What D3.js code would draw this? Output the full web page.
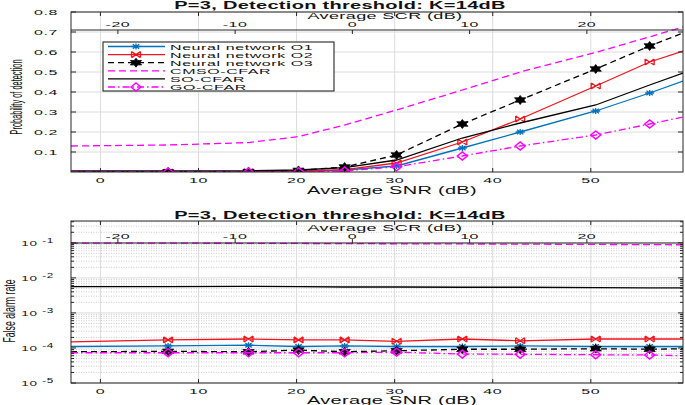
<!DOCTYPE html>
<html><head><meta charset="utf-8">
<script src="https://cdn.jsdelivr.net/npm/d3@7"></script>
<style>body{margin:0;background:#fff}text{font-family:"Liberation Sans",Arial,sans-serif;fill:#111}</style>
</head><body><svg id="c" width="685" height="405"></svg>
<script>
// ---------- data ----------
const snr = [-3, 6.9, 15.1, 20.2, 24.9, 30.2, 36.9, 42.8, 50.5, 56.0, 59.4];
const markerIdx = [1, 2, 3, 4, 5, 6, 7, 8, 9];
const seriesNames = ["Neural network O1", "Neural network O2", "Neural network O3", "CMSO-CFAR", "SO-CFAR", "GO-CFAR"];

const pdO1   = [0.0, 0.0, 0.001, 0.003, 0.01, 0.03, 0.12, 0.2, 0.305, 0.395, 0.455];
const pdO2   = [0.0, 0.0, 0.001, 0.004, 0.012, 0.045, 0.15, 0.265, 0.43, 0.55, 0.605];
const pdO3   = [0.0, 0.0, 0.002, 0.008, 0.025, 0.085, 0.24, 0.36, 0.515, 0.63, 0.695];
const pdCMSO = [0.13, 0.135, 0.147, 0.177, 0.235, 0.31, 0.41, 0.50, 0.598, 0.676, 0.725];
const pdSO   = [0.005, 0.005, 0.006, 0.01, 0.022, 0.06, 0.17, 0.245, 0.335, 0.435, 0.495];
const pdGO   = [0.0, 0.0, 0.0, 0.001, 0.005, 0.026, 0.08, 0.13, 0.185, 0.24, 0.275];

const pfaO1   = [1.1e-4, 1.14e-4, 1.2e-4, 1.1e-4, 1.14e-4, 1.1e-4, 1.1e-4, 1.14e-4, 1.1e-4, 1.1e-4, 1.1e-4];
const pfaO2   = [1.5e-4, 1.7e-4, 1.8e-4, 1.7e-4, 1.7e-4, 1.55e-4, 1.8e-4, 1.6e-4, 1.8e-4, 1.8e-4, 1.8e-4];
const pfaO3   = [7.8e-5, 8.0e-5, 7.8e-5, 8.7e-5, 7.8e-5, 8.3e-5, 9.2e-5, 9.2e-5, 9.5e-5, 9.2e-5, 9.5e-5];
const pfaCMSO = [0.098, 0.098, 0.097, 0.096, 0.095, 0.094, 0.093, 0.092, 0.090, 0.089, 0.088];
const pfaSO   = [0.0056, 0.0056, 0.0057, 0.0056, 0.0055, 0.0055, 0.0054, 0.0054, 0.0053, 0.0052, 0.0052];
const pfaGO   = [7.3e-5, 7.3e-5, 7.3e-5, 7.3e-5, 7.3e-5, 7.6e-5, 6.7e-5, 6.6e-5, 6.4e-5, 6.3e-5, 6.0e-5];

const snrTicks = [0, 10, 20, 30, 40, 50];
const scrTicks = [-20, -10, 0, 10, 20];
const pdTicks  = [0.1, 0.2, 0.3, 0.4, 0.5, 0.6, 0.7, 0.8];
const pfaExps  = [-5, -4, -3, -2, -1];
const titleText = "P=3, Detection threshold: K=14dB";
const xLabel = "Average SNR (dB)";
const x2Label = "Average SCR (dB)";
const yLabelTop = "Probability of detection";
const yLabelBot = "False alarm rate";

// ---------- styles ----------
const styles = [
  {color: "#0072BD", dash: null, marker: "ast"},
  {color: "#f0141e", dash: null, marker: "x"},
  {color: "#000000", dash: "6,4", marker: "hex"},
  {color: "#ff00ff", dash: "7,4", marker: null},
  {color: "#000000", dash: null, marker: null},
  {color: "#ff00ff", dash: "7,3,1.5,3", marker: "dia"}
];

const svg = d3.select("#c");
const X0 = 71, X1 = 683;
const x  = d3.scaleLinear().domain([-3, 59.4]).range([X0, X1]);
const xs = d3.scaleLinear().domain([-24, 28.2]).range([X0, X1]);
const AX = "#262626", GRID = "#dcdcdc";

function T(g, px, py, s, o = {}) {
  const size = o.size || 8, sx = o.sx || 2, anchor = o.anchor || "middle";
  return g.append("text")
    .attr("transform", `translate(${px},${py}) scale(${sx},1)`)
    .attr("text-anchor", anchor)
    .style("font-size", size + "px")
    .style("font-weight", o.weight || "normal")
    .style("letter-spacing", (o.ls == null ? 0.3 : o.ls) + "px")
    .text(s);
}

function hexPath(w, h) {
  const pts = [];
  for (let i = 0; i < 12; i++) {
    const a = -Math.PI / 2 + i * Math.PI / 6;
    const r = i % 2 === 0 ? 1 : 0.55;
    pts.push([Math.cos(a) * r * w, Math.sin(a) * r * h]);
  }
  return "M" + pts.map(p => p.join(",")).join("L") + "Z";
}
function drawMarker(g, type, cx, cy, color) {
  const m = g.append("path").attr("transform", `translate(${cx},${cy})`);
  if (type === "ast") m.attr("d", "M-4.5,0H4.5M0,-3V3M-3.2,-2.2L3.2,2.2M-3.2,2.2L3.2,-2.2").attr("stroke", color).attr("stroke-width", 1.3).attr("fill", "none");
  if (type === "x") m.attr("d", "M-4.5,-3L4.5,3M-4.5,3L4.5,-3M-4.5,-3V3M4.5,-3V3").attr("stroke", color).attr("stroke-width", 1.3).attr("fill", "none");
  if (type === "hex") m.attr("d", hexPath(6.5, 4.5)).attr("fill", color).attr("stroke", color).attr("stroke-width", 0.8);
  if (type === "dia") m.attr("d", "M-5,0L0,-4L5,0L0,4Z").attr("stroke", color).attr("stroke-width", 1.5).attr("fill", "none");
}

function drawPanel(cfg) {
  const g = svg.append("g");
  const y = cfg.y;
  const [yb, yt] = y.range();
  const clipId = "clip" + cfg.id;
  svg.append("clipPath").attr("id", clipId).append("rect").attr("x", X0).attr("y", yt).attr("width", X1 - X0).attr("height", yb - yt);

  // grid
  if (cfg.log) {
    const minor = [];
    pfaExps.forEach(e => { for (let k = 2; k <= 9; k++) { const v = k * Math.pow(10, e); if (v < y.domain()[1]) minor.push(v); } });
    g.selectAll(".mg").data(minor).enter().append("line")
      .attr("x1", X0).attr("x2", X1).attr("y1", d => y(d)).attr("y2", d => y(d))
      .attr("stroke", "#c0c0c0").attr("stroke-width", 0.8).attr("stroke-dasharray", "1,1.5");
  }
  g.selectAll(".hg").data(cfg.yTicks).enter().append("line")
    .attr("x1", X0).attr("x2", X1).attr("y1", d => y(d)).attr("y2", d => y(d))
    .attr("stroke", GRID).attr("stroke-width", 1);
  g.selectAll(".vg").data(snrTicks).enter().append("line")
    .attr("x1", d => x(d)).attr("x2", d => x(d)).attr("y1", yt).attr("y2", yb)
    .attr("stroke", GRID).attr("stroke-width", 1);

  // series
  const pl = g.append("g").attr("clip-path", `url(#${clipId})`);
  cfg.series.forEach((vals, i) => {
    const st = styles[i];
    const line = d3.line().x((d, j) => x(snr[j])).y(d => y(d));
    pl.append("path").datum(vals).attr("d", line).attr("fill", "none")
      .attr("stroke", st.color).attr("stroke-width", 1.3)
      .attr("stroke-dasharray", st.dash);
    if (st.marker) markerIdx.forEach(j => drawMarker(pl, st.marker, x(snr[j]), y(vals[j]), st.color));
  });

  // box & axes
  const ax = g.append("g").attr("stroke", AX).attr("stroke-width", 1).attr("fill", "none");
  ax.append("rect").attr("x", X0).attr("y", yt).attr("width", X1 - X0).attr("height", yb - yt);
  ax.append("line").attr("x1", X0).attr("x2", X1).attr("y1", cfg.secY).attr("y2", cfg.secY);
  snrTicks.forEach(t => {
    ax.append("line").attr("x1", x(t)).attr("x2", x(t)).attr("y1", yb).attr("y2", yb - 4);
    ax.append("line").attr("x1", x(t)).attr("x2", x(t)).attr("y1", yt).attr("y2", yt + 4);
    T(g, x(t), yb + 10.5, String(t));
  });
  scrTicks.forEach(t => {
    ax.append("line").attr("x1", xs(t)).attr("x2", xs(t)).attr("y1", cfg.secY).attr("y2", cfg.secY + cfg.secTickDir * 4);
    T(g, xs(t), cfg.scrLabY, String(t));
  });
  cfg.yTicks.forEach(t => {
    ax.append("line").attr("x1", X0).attr("x2", X0 + 5).attr("y1", y(t)).attr("y2", y(t));
    ax.append("line").attr("x1", X1).attr("x2", X1 - 5).attr("y1", y(t)).attr("y2", y(t));
  });
  if (cfg.log) {
    pfaExps.forEach(e => { for (let k = 2; k <= 9; k++) { const v = k * Math.pow(10, e); if (v < y.domain()[1]) {
      ax.append("line").attr("x1", X0).attr("x2", X0 + 3).attr("y1", y(v)).attr("y2", y(v));
      ax.append("line").attr("x1", X1).attr("x2", X1 - 3).attr("y1", y(v)).attr("y2", y(v));
    } } });
    pfaExps.forEach(e => {
      const t = g.append("text").attr("transform", `translate(54,${y(Math.pow(10, e)) + 3}) scale(1.8,1)`)
        .attr("text-anchor", "end").style("font-size", "7.5px").style("letter-spacing", "0.4px");
      t.append("tspan").text("10");
      t.append("tspan").attr("dx", 2.5).attr("dy", -3).style("font-size", "6.5px").text("-" + Math.abs(e));
    });
  } else {
    cfg.yTicks.forEach(t => T(g, 58, y(t) + 3, d3.format(".1f")(t), {anchor: "end"}));
  }

  // labels
  T(g, 340, cfg.titleY, titleText, {size: 10, weight: "bold", ls: 0.15});
  T(g, 385, cfg.x2LabY, x2Label, {size: 9, ls: 0.2});
  T(g, 392, yb + cfg.xLabOff, xLabel, {size: 10, ls: 0.15});
  g.append("text").attr("transform", `translate(${cfg.ylX},${cfg.ylY}) rotate(-90) scale(1,1.9)`)
    .attr("text-anchor", "middle").style("font-size", "9px")
    .attr("textLength", cfg.ylLen).attr("lengthAdjust", "spacingAndGlyphs")
    .text(cfg.ylabel);
  return g;
}

const yTop = d3.scaleLinear().domain([0, 0.8]).range([172, 12]);
const yBot = d3.scaleLog().domain([1e-5, 0.42]).range([383, 221]);

drawPanel({
  id: "t", y: yTop, log: false, yTicks: pdTicks,
  series: [pdO1, pdO2, pdO3, pdCMSO, pdSO, pdGO],
  secY: 30, secTickDir: 1, scrLabY: 26.5, x2LabY: 18.5, titleY: 9, xLabOff: 22,
  ylabel: yLabelTop, ylX: 22, ylY: 97, ylLen: 75
});
drawPanel({
  id: "b", y: yBot, log: true, yTicks: pfaExps.map(e => Math.pow(10, e)),
  series: [pfaO1, pfaO2, pfaO3, pfaCMSO, pfaSO, pfaGO],
  secY: 243, secTickDir: -1, scrLabY: 238.5, x2LabY: 230.5, titleY: 219, xLabOff: 20.5,
  ylabel: yLabelBot, ylX: 15, ylY: 311, ylLen: 63
});

// legend
const lg = svg.append("g");
lg.append("rect").attr("x", 103).attr("y", 42).attr("width", 231).attr("height", 49)
  .attr("fill", "#fff").attr("stroke", "#111").attr("stroke-width", 1);
seriesNames.forEach((n, i) => {
  const cy = 46.5 + i * 8.1, st = styles[i];
  lg.append("line").attr("x1", 108).attr("x2", 165).attr("y1", cy).attr("y2", cy)
    .attr("stroke", st.color).attr("stroke-width", 1.3).attr("stroke-dasharray", st.dash);
  if (st.marker) drawMarker(lg, st.marker, 136, cy, st.color);
  T(lg, 170, cy + 3, n, {anchor: "start"});
});
</script></body></html>
